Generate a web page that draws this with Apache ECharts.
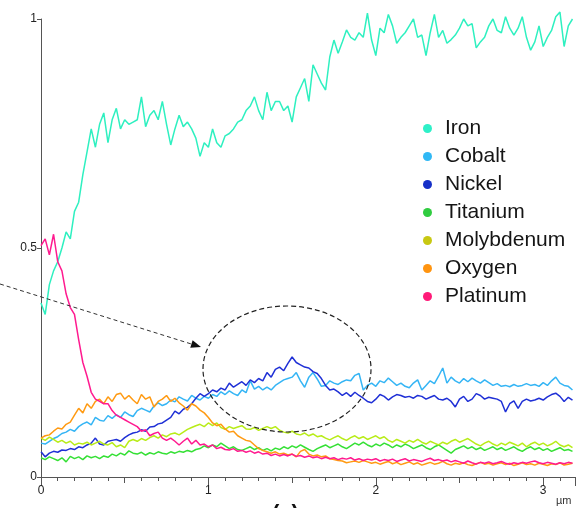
<!DOCTYPE html>
<html>
<head>
<meta charset="utf-8">
<script src="https://cdn.jsdelivr.net/npm/echarts@6/dist/echarts.min.js"></script>
<style>
  html, body { margin: 0; padding: 0; background: #fff; }
  #chart { width: 581px; height: 508px; }
</style>
</head>
<body>
<div id="chart"></div>
<script>
// Line-scan profile (µm) of normalised element signals, sampled every 0.025 µm
const STEP = 0.025;
const seriesNames = ['Iron', 'Cobalt', 'Nickel', 'Titanium', 'Molybdenum', 'Oxygen', 'Platinum'];
const yTicks = [0, 0.5, 1];
const xTickLabels = ['0', '1', '2', '3'];

const ironVals = [
  0.38, 0.355, 0.42, 0.45, 0.47, 0.50, 0.535, 0.52, 0.58, 0.60,
  0.66, 0.71, 0.76, 0.72, 0.77, 0.795, 0.73, 0.78, 0.805, 0.76,
  0.78, 0.77, 0.775, 0.78, 0.83, 0.765, 0.79, 0.80, 0.78, 0.82,
  0.77, 0.725, 0.76, 0.79, 0.765, 0.775, 0.76, 0.74, 0.70, 0.73,
  0.72, 0.76, 0.73, 0.72, 0.745, 0.75, 0.76, 0.775, 0.78, 0.80,
  0.81, 0.83, 0.80, 0.78, 0.84, 0.80, 0.82, 0.82, 0.80, 0.81,
  0.775, 0.83, 0.85, 0.87, 0.82, 0.90, 0.88, 0.86, 0.845, 0.917,
  0.954, 0.925, 0.95, 0.976, 0.96, 0.954, 0.97, 0.96, 1.013, 0.954,
  0.92, 0.98, 0.97, 1.01, 0.985, 0.947, 0.96, 0.97, 0.985, 1.0,
  0.96, 0.965, 0.92, 0.97, 1.01, 0.96, 0.975, 0.947, 0.955, 0.965,
  0.98, 1.0, 0.985, 0.99, 0.937, 0.95, 0.96, 0.985, 1.0, 0.975,
  0.97, 1.005, 0.98, 0.965, 0.98, 1.005, 0.96, 0.932, 0.95, 0.985,
  0.94, 0.96, 0.975, 1.005, 1.015, 0.94, 0.985, 1.0
];
const cobaltVals = [
  0.074, 0.072, 0.078, 0.084, 0.088, 0.095, 0.098, 0.104, 0.10, 0.11,
  0.116, 0.12, 0.114, 0.13, 0.124, 0.122, 0.134, 0.128, 0.136, 0.13,
  0.142, 0.136, 0.132, 0.145, 0.15, 0.146, 0.142, 0.155, 0.162, 0.156,
  0.16, 0.168, 0.164, 0.175, 0.17, 0.166, 0.178, 0.172, 0.168, 0.176,
  0.172, 0.18, 0.176, 0.186, 0.18, 0.188, 0.182, 0.178, 0.19, 0.184,
  0.21, 0.192, 0.198, 0.19, 0.196, 0.19, 0.20, 0.206, 0.212, 0.215,
  0.218, 0.228, 0.21, 0.196, 0.218, 0.228, 0.214, 0.198, 0.20, 0.21,
  0.205, 0.202, 0.208, 0.212, 0.21, 0.222, 0.226, 0.19, 0.20, 0.205,
  0.198, 0.21, 0.206, 0.216, 0.208, 0.20, 0.205, 0.198, 0.195, 0.205,
  0.212, 0.19, 0.20, 0.21, 0.204, 0.22, 0.238, 0.205, 0.218, 0.21,
  0.205, 0.215, 0.208, 0.216, 0.21, 0.205, 0.212, 0.206, 0.20, 0.204,
  0.198, 0.20, 0.197, 0.202, 0.198, 0.20, 0.204, 0.20, 0.202, 0.198,
  0.206, 0.20, 0.21, 0.218, 0.205, 0.20, 0.198, 0.19
];
const nickelVals = [
  0.055, 0.044, 0.052, 0.056, 0.054, 0.059, 0.058, 0.062, 0.06, 0.066,
  0.064, 0.07, 0.074, 0.085, 0.072, 0.07, 0.078, 0.08, 0.082, 0.078,
  0.086, 0.092, 0.096, 0.098, 0.103, 0.10, 0.109, 0.11, 0.116, 0.118,
  0.124, 0.13, 0.144, 0.138, 0.148, 0.152, 0.16, 0.172, 0.182, 0.176,
  0.182, 0.19, 0.186, 0.194, 0.19, 0.205, 0.196, 0.202, 0.208, 0.20,
  0.212, 0.206, 0.215, 0.21, 0.228, 0.218, 0.235, 0.24, 0.232, 0.248,
  0.262, 0.25, 0.245, 0.24, 0.238, 0.23, 0.226, 0.215, 0.20, 0.19,
  0.192, 0.186, 0.178, 0.184, 0.176, 0.185, 0.178, 0.172, 0.165, 0.162,
  0.17, 0.18, 0.176, 0.168, 0.175, 0.18, 0.178, 0.174, 0.176, 0.172,
  0.178, 0.176, 0.17, 0.174, 0.178, 0.17, 0.168, 0.172, 0.165, 0.153,
  0.17, 0.176, 0.165, 0.17, 0.182, 0.178, 0.17, 0.174, 0.172, 0.17,
  0.165, 0.142, 0.16, 0.166, 0.15, 0.165, 0.17, 0.166, 0.168, 0.172,
  0.168, 0.175, 0.18, 0.183, 0.176, 0.165, 0.174, 0.168
];
const titaniumVals = [
  0.042, 0.038, 0.044, 0.04, 0.036, 0.042, 0.033, 0.045, 0.04, 0.044,
  0.038, 0.046, 0.042, 0.045, 0.04, 0.046, 0.043, 0.05, 0.046, 0.052,
  0.048, 0.057, 0.052, 0.05, 0.054, 0.048, 0.053, 0.05, 0.055, 0.052,
  0.05, 0.055, 0.052, 0.056, 0.054, 0.058, 0.055, 0.06, 0.062, 0.068,
  0.064, 0.07, 0.066, 0.074, 0.068, 0.062, 0.066, 0.06, 0.058, 0.062,
  0.066, 0.06, 0.064, 0.058, 0.062, 0.057, 0.063, 0.06, 0.066, 0.062,
  0.068, 0.064, 0.07, 0.065, 0.06, 0.056, 0.062, 0.066, 0.07, 0.064,
  0.068, 0.072, 0.066, 0.062, 0.068, 0.074, 0.07, 0.076, 0.07, 0.066,
  0.072, 0.068, 0.074, 0.07, 0.064, 0.07, 0.066, 0.072, 0.068, 0.062,
  0.066, 0.07, 0.064, 0.06, 0.066, 0.07, 0.064, 0.058, 0.052, 0.06,
  0.064, 0.068, 0.062, 0.066, 0.06, 0.064, 0.058, 0.062, 0.066, 0.06,
  0.064, 0.058, 0.062, 0.066, 0.06, 0.056, 0.062, 0.066, 0.06, 0.064,
  0.058, 0.062, 0.056, 0.06, 0.064, 0.058, 0.06, 0.056
];
const molybdenumVals = [
  0.085, 0.08, 0.087, 0.082, 0.076, 0.08, 0.074, 0.078, 0.07, 0.074,
  0.072, 0.076, 0.07, 0.074, 0.078, 0.072, 0.07, 0.075, 0.066, 0.07,
  0.064, 0.078, 0.082, 0.078, 0.084, 0.08, 0.086, 0.09, 0.085, 0.092,
  0.088, 0.094, 0.096, 0.092, 0.098, 0.104, 0.108, 0.112, 0.115, 0.11,
  0.118, 0.112, 0.118, 0.108, 0.104, 0.11, 0.106, 0.109, 0.112, 0.105,
  0.104, 0.108, 0.102, 0.106, 0.11, 0.106, 0.11, 0.102, 0.098, 0.096,
  0.10, 0.094, 0.092, 0.096, 0.09, 0.094, 0.088, 0.09, 0.085, 0.081,
  0.086, 0.09, 0.084, 0.08, 0.086, 0.09, 0.084, 0.088, 0.082, 0.086,
  0.09, 0.084, 0.088, 0.08, 0.076, 0.082, 0.078, 0.074, 0.08, 0.076,
  0.082, 0.076, 0.072, 0.078, 0.074, 0.07, 0.076, 0.072, 0.078, 0.082,
  0.076, 0.08, 0.084, 0.078, 0.072, 0.068, 0.074, 0.078, 0.072, 0.068,
  0.074, 0.07, 0.076, 0.072, 0.068, 0.074, 0.066, 0.072, 0.076, 0.07,
  0.074, 0.068, 0.072, 0.078, 0.07, 0.066, 0.07, 0.064
];
const oxygenVals = [
  0.085, 0.09, 0.092, 0.10, 0.107, 0.105, 0.115, 0.12, 0.135, 0.15,
  0.14, 0.16, 0.15, 0.165, 0.17, 0.16, 0.175, 0.165, 0.18, 0.183,
  0.17, 0.178, 0.168, 0.16, 0.18, 0.17, 0.175, 0.153, 0.165, 0.17,
  0.178, 0.165, 0.172, 0.162, 0.155, 0.146, 0.16, 0.155, 0.146, 0.14,
  0.13, 0.118, 0.112, 0.115, 0.105, 0.098, 0.10, 0.09, 0.085, 0.08,
  0.078, 0.07, 0.062, 0.058, 0.055, 0.052, 0.055, 0.05, 0.052, 0.048,
  0.05, 0.044, 0.056, 0.06, 0.05, 0.046, 0.048, 0.044, 0.046, 0.04,
  0.038, 0.036, 0.035, 0.031, 0.033, 0.035, 0.032, 0.036, 0.033, 0.03,
  0.032, 0.028, 0.031, 0.034, 0.029, 0.032, 0.027, 0.03, 0.033, 0.028,
  0.031, 0.026, 0.029, 0.032, 0.028, 0.03, 0.034, 0.029, 0.026, 0.03,
  0.028, 0.031, 0.027, 0.025, 0.029, 0.032, 0.028, 0.03, 0.026, 0.029,
  0.031, 0.027, 0.03, 0.025, 0.028, 0.031, 0.027, 0.029, 0.026, 0.03,
  0.028, 0.025, 0.029, 0.027, 0.031, 0.026, 0.028, 0.03
];
const platinumVals = [
  0.505, 0.52, 0.485, 0.53, 0.47, 0.45, 0.40, 0.37, 0.355, 0.30,
  0.25, 0.22, 0.185, 0.17, 0.165, 0.16, 0.16, 0.145, 0.135, 0.13,
  0.125, 0.12, 0.115, 0.11, 0.10, 0.103, 0.09, 0.095, 0.098, 0.085,
  0.08, 0.085, 0.078, 0.07, 0.078, 0.085, 0.072, 0.08, 0.07, 0.072,
  0.066, 0.07, 0.062, 0.065, 0.06, 0.059, 0.062, 0.056, 0.058, 0.054,
  0.057, 0.052, 0.055, 0.05, 0.052, 0.047, 0.05, 0.046, 0.049, 0.046,
  0.05, 0.045, 0.047, 0.043, 0.046, 0.042, 0.044, 0.04, 0.043, 0.04,
  0.042, 0.038, 0.041, 0.039, 0.042, 0.037, 0.04, 0.036, 0.039, 0.037,
  0.04, 0.035, 0.038, 0.036, 0.039, 0.034, 0.037, 0.04, 0.035, 0.038,
  0.036, 0.034, 0.038, 0.041, 0.036, 0.038, 0.035, 0.037, 0.033, 0.036,
  0.033, 0.03, 0.035, 0.031, 0.028, 0.032, 0.03, 0.033, 0.029, 0.031,
  0.034, 0.03, 0.028, 0.031, 0.029, 0.032, 0.03, 0.033, 0.035, 0.031,
  0.029, 0.032, 0.03, 0.028, 0.031, 0.029, 0.032, 0.03
];

const lineColors = ['#2ef0c0', '#35b5f5', '#1f30d6', '#35e035', '#b8ec18', '#ff9a12', '#ff1a8f'];
const legendColors = ['#2ef0c8', '#30b8f5', '#1630c8', '#30cc40', '#c8c812', '#ff9410', '#ff1a78'];
const valueSets = [ironVals, cobaltVals, nickelVals, titaniumVals, molybdenumVals, oxygenVals, platinumVals];

const toPairs = vals => vals.map((v, i) => [i * STEP, v]);

const chart = echarts.init(document.getElementById('chart'), null, { renderer: 'canvas' });

const axisColor = '#555';
const fontFamily = 'Liberation Sans, Arial, sans-serif';
const labelFont = { color: '#222', fontSize: 12, fontFamily: fontFamily };

// arrow pointing into the highlighted Ni peak
const arrowTip = [201, 347];
const arrowDir = [0.955, 0.296];
const headLen = 10, headHalf = 4;
const base = [arrowTip[0] - headLen * arrowDir[0], arrowTip[1] - headLen * arrowDir[1]];
const perp = [-arrowDir[1], arrowDir[0]];

chart.setOption({
  animation: false,
  backgroundColor: '#ffffff',
  grid: { left: 41, right: 6, top: 19, bottom: 31, containLabel: false },
  xAxis: [{
    type: 'value', min: 0, max: 3.19, interval: 0.5,
    axisLine: { show: true, onZero: false, lineStyle: { color: axisColor, width: 1 } },
    axisTick: { show: true, length: 6, lineStyle: { color: axisColor } },
    minorTick: { show: true, splitNumber: 5, length: 4, lineStyle: { color: axisColor } },
    axisLabel: Object.assign({
      margin: 8,
      formatter: v => (Number.isInteger(v) ? xTickLabels[v] : ''),
      showMaxLabel: false
    }, labelFont),
    splitLine: { show: false },
    minorSplitLine: { show: false }
  }, {
    type: 'value', min: 0, max: 3.19, interval: 1, position: 'bottom',
    axisLine: { show: false },
    axisTick: { show: true, length: 9, lineStyle: { color: axisColor } },
    axisLabel: { show: false },
    splitLine: { show: false }
  }],
  yAxis: {
    type: 'value', min: 0, max: 1, interval: 0.5,
    axisLine: { show: true, lineStyle: { color: axisColor, width: 1 } },
    axisTick: { show: true, length: 4, lineStyle: { color: axisColor } },
    axisLabel: Object.assign({
      margin: 4,
      formatter: v => String(yTicks[yTicks.indexOf(v)])
    }, labelFont),
    splitLine: { show: false }
  },
  legend: {
    orient: 'vertical',
    left: 423, top: 118,
    padding: 0,
    icon: 'circle',
    itemWidth: 11, itemHeight: 9,
    itemGap: 7,
    textStyle: { fontSize: 21, lineHeight: 21, color: '#151515', fontFamily: fontFamily, padding: [0, 0, 0, 7] },
    data: seriesNames.map((n, i) => ({ name: n, itemStyle: { color: legendColors[i] } }))
  },
  series: seriesNames.map((n, i) => ({
    name: n,
    type: 'line',
    xAxisIndex: 0,
    data: toPairs(valueSets[i]),
    showSymbol: false,
    symbol: 'none',
    clip: false,
    lineStyle: { color: lineColors[i], width: 1.5 },
    itemStyle: { color: lineColors[i] },
    emphasis: { disabled: true }
  })),
  graphic: [
    {
      type: 'ellipse',
      shape: { cx: 287, cy: 369, rx: 84, ry: 63 },
      style: { fill: 'none', stroke: '#222', lineWidth: 1.2, lineDash: [5, 3] },
      z: 100
    },
    {
      type: 'line',
      shape: { x1: 0, y1: 284, x2: base[0], y2: base[1] },
      style: { stroke: '#333', lineWidth: 1, lineDash: [4, 3] },
      z: 100
    },
    {
      type: 'polygon',
      shape: { points: [
        arrowTip,
        [base[0] + headHalf * perp[0], base[1] + headHalf * perp[1]],
        [base[0] - headHalf * perp[0], base[1] - headHalf * perp[1]]
      ] },
      style: { fill: '#111' },
      z: 100
    },
    {
      type: 'text', left: 556, top: 495,
      style: { text: 'µm', fontSize: 11, fill: '#333', fontFamily: fontFamily }
    },
    {
      type: 'text', left: 272, top: 503,
      style: { text: '(a)', fontSize: 22, fontWeight: 'bold', fill: '#111', fontFamily: fontFamily }
    }
  ]
});
</script>
</body>
</html>
